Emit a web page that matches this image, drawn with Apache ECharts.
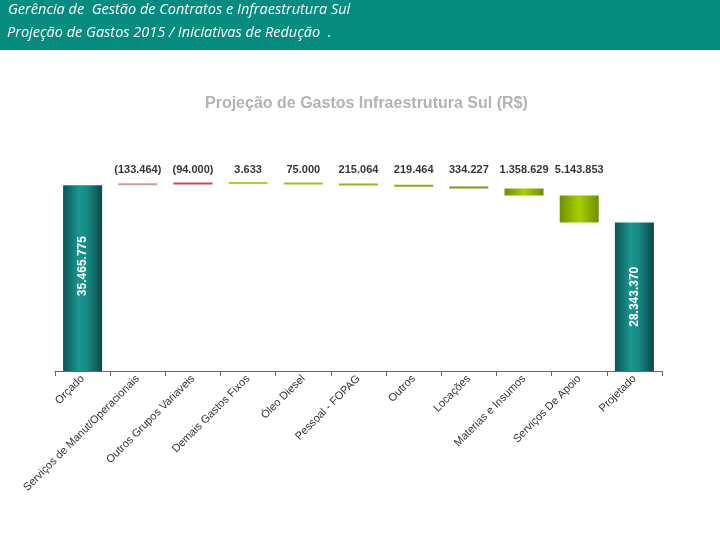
<!DOCTYPE html>
<html><head><meta charset="utf-8">
<script src="https://cdn.jsdelivr.net/npm/echarts@6/dist/echarts.min.js"></script>
<style>html,body{margin:0;padding:0;background:#fff}#c{width:720px;height:540px}</style>
</head><body><div id="c"></div>
<script>
const categories = ["Orçado","Serviços de Manut/Operacionais","Outros Grupos Variaveis","Demais Gastos Fixos","Óleo Diesel","Pessoal - FOPAG","Outros","Locações","Materias e Insumos","Serviços De Apoio","Projetado"];
const orcado = 35465775;
const projetado = 28343370;
// reductions (negative = increase of spend)
const reductions = [-133464, -94000, 3633, 75000, 215064, 219464, 334227, 1358629, 5143853];
const reductionColors = ["#d49a9a","#c4485a","#b5cc3a","#a6c21e","#9ab514","#8faa10","#7d9a10","#9cc800","#9cc800"];

function fmt(v){
  const s = Math.abs(v).toString().replace(/\B(?=(\d{3})+(?!\d))/g,".");
  return v < 0 ? "(" + s + ")" : s;
}

const base = [], delta = [], totals = [];
let running = orcado;
totals.push({value: orcado, label:{offset:[12,0]}});
base.push(0); delta.push(null);
reductions.forEach((r,i)=>{
  let lo, hi;
  if (r < 0) { lo = running; hi = running - r; running = hi; }
  else { hi = running; lo = running - r; running = lo; }
  base.push(lo);
  const c = reductionColors[i];
  const g = r > 1000000;
  delta.push({value: hi - lo, itemStyle: {color: g ? new echarts.graphic.LinearGradient(0,0,1,0,[{offset:0,color:'#6f8f00'},{offset:0.5,color:'#a6d000'},{offset:1,color:'#6f8f00'}]) : c}});
  totals.push(null);
});
base.push(0); delta.push(null);
totals.push(projetado);

const LABEL_LEVEL = 38400000;
const labelData = categories.map((c,i)=> (i>0 && i<categories.length-1) ? [i, LABEL_LEVEL] : null).filter(x=>x);

const teal = new echarts.graphic.LinearGradient(0,0,1,0,[{offset:0,color:'#0a5654'},{offset:0.4,color:'#1a9690'},{offset:0.6,color:'#178a84'},{offset:1,color:'#0b4a48'}]);

const chart = echarts.init(document.getElementById('c'));
chart.setOption({
  animation:false,
  graphic:[
    {type:'rect', shape:{x:0,y:0,width:720,height:50}, style:{fill:'#068c7f'}},
    {type:'text', left:8, top:2, style:{text:'Gerência de  Gestão de Contratos e Infraestrutura Sul', fill:'#fff', font:'italic 14.5px "Open Sans"'}},
    {type:'text', left:7, top:25, style:{text:'Projeção de Gastos 2015 / Iniciativas de Redução  .', fill:'#fff', font:'italic 14.5px "Open Sans"'}},
    {type:'text', left:205, top:96, style:{text:'Projeção de Gastos Infraestrutura Sul (R$)', fill:'#b3b3b3', font:'bold 16px "Liberation Sans"'}}
  ],
  grid:{left:55, right:58, top:151, bottom:169},
  xAxis:{type:'category', data:categories,
    axisLine:{lineStyle:{color:'#666'}}, axisTick:{show:true, length:5, lineStyle:{color:'#666'}},
    axisLabel:{rotate:45, interval:0, color:'#333', fontSize:11, fontFamily:'Liberation Sans', margin:6}},
  yAxis:{type:'value', min:0, max:42000000, show:false, splitLine:{show:false}},
  series:[
    {type:'bar', stack:'w', data:base, barWidth:39, itemStyle:{color:'transparent'}, silent:true},
    {type:'bar', stack:'w', data:delta, barWidth:39, barMinHeight:2},
    {type:'bar', stack:'w', data:totals, barWidth:39, itemStyle:{color:teal},
      label:{show:true, position:'inside', rotate:90, color:'#fff', fontWeight:'bold', fontSize:12, fontFamily:'Liberation Sans',
        formatter:p=>fmt(p.value)}},
    {type:'scatter', data:labelData, symbolSize:0, silent:true,
      label:{show:true, position:'inside', color:'#000', fontWeight:'bold', fontSize:11, fontFamily:'Liberation Sans',
        formatter:p=>fmt(reductions[p.data[0]-1])}}
  ]
});
</script></body></html>
